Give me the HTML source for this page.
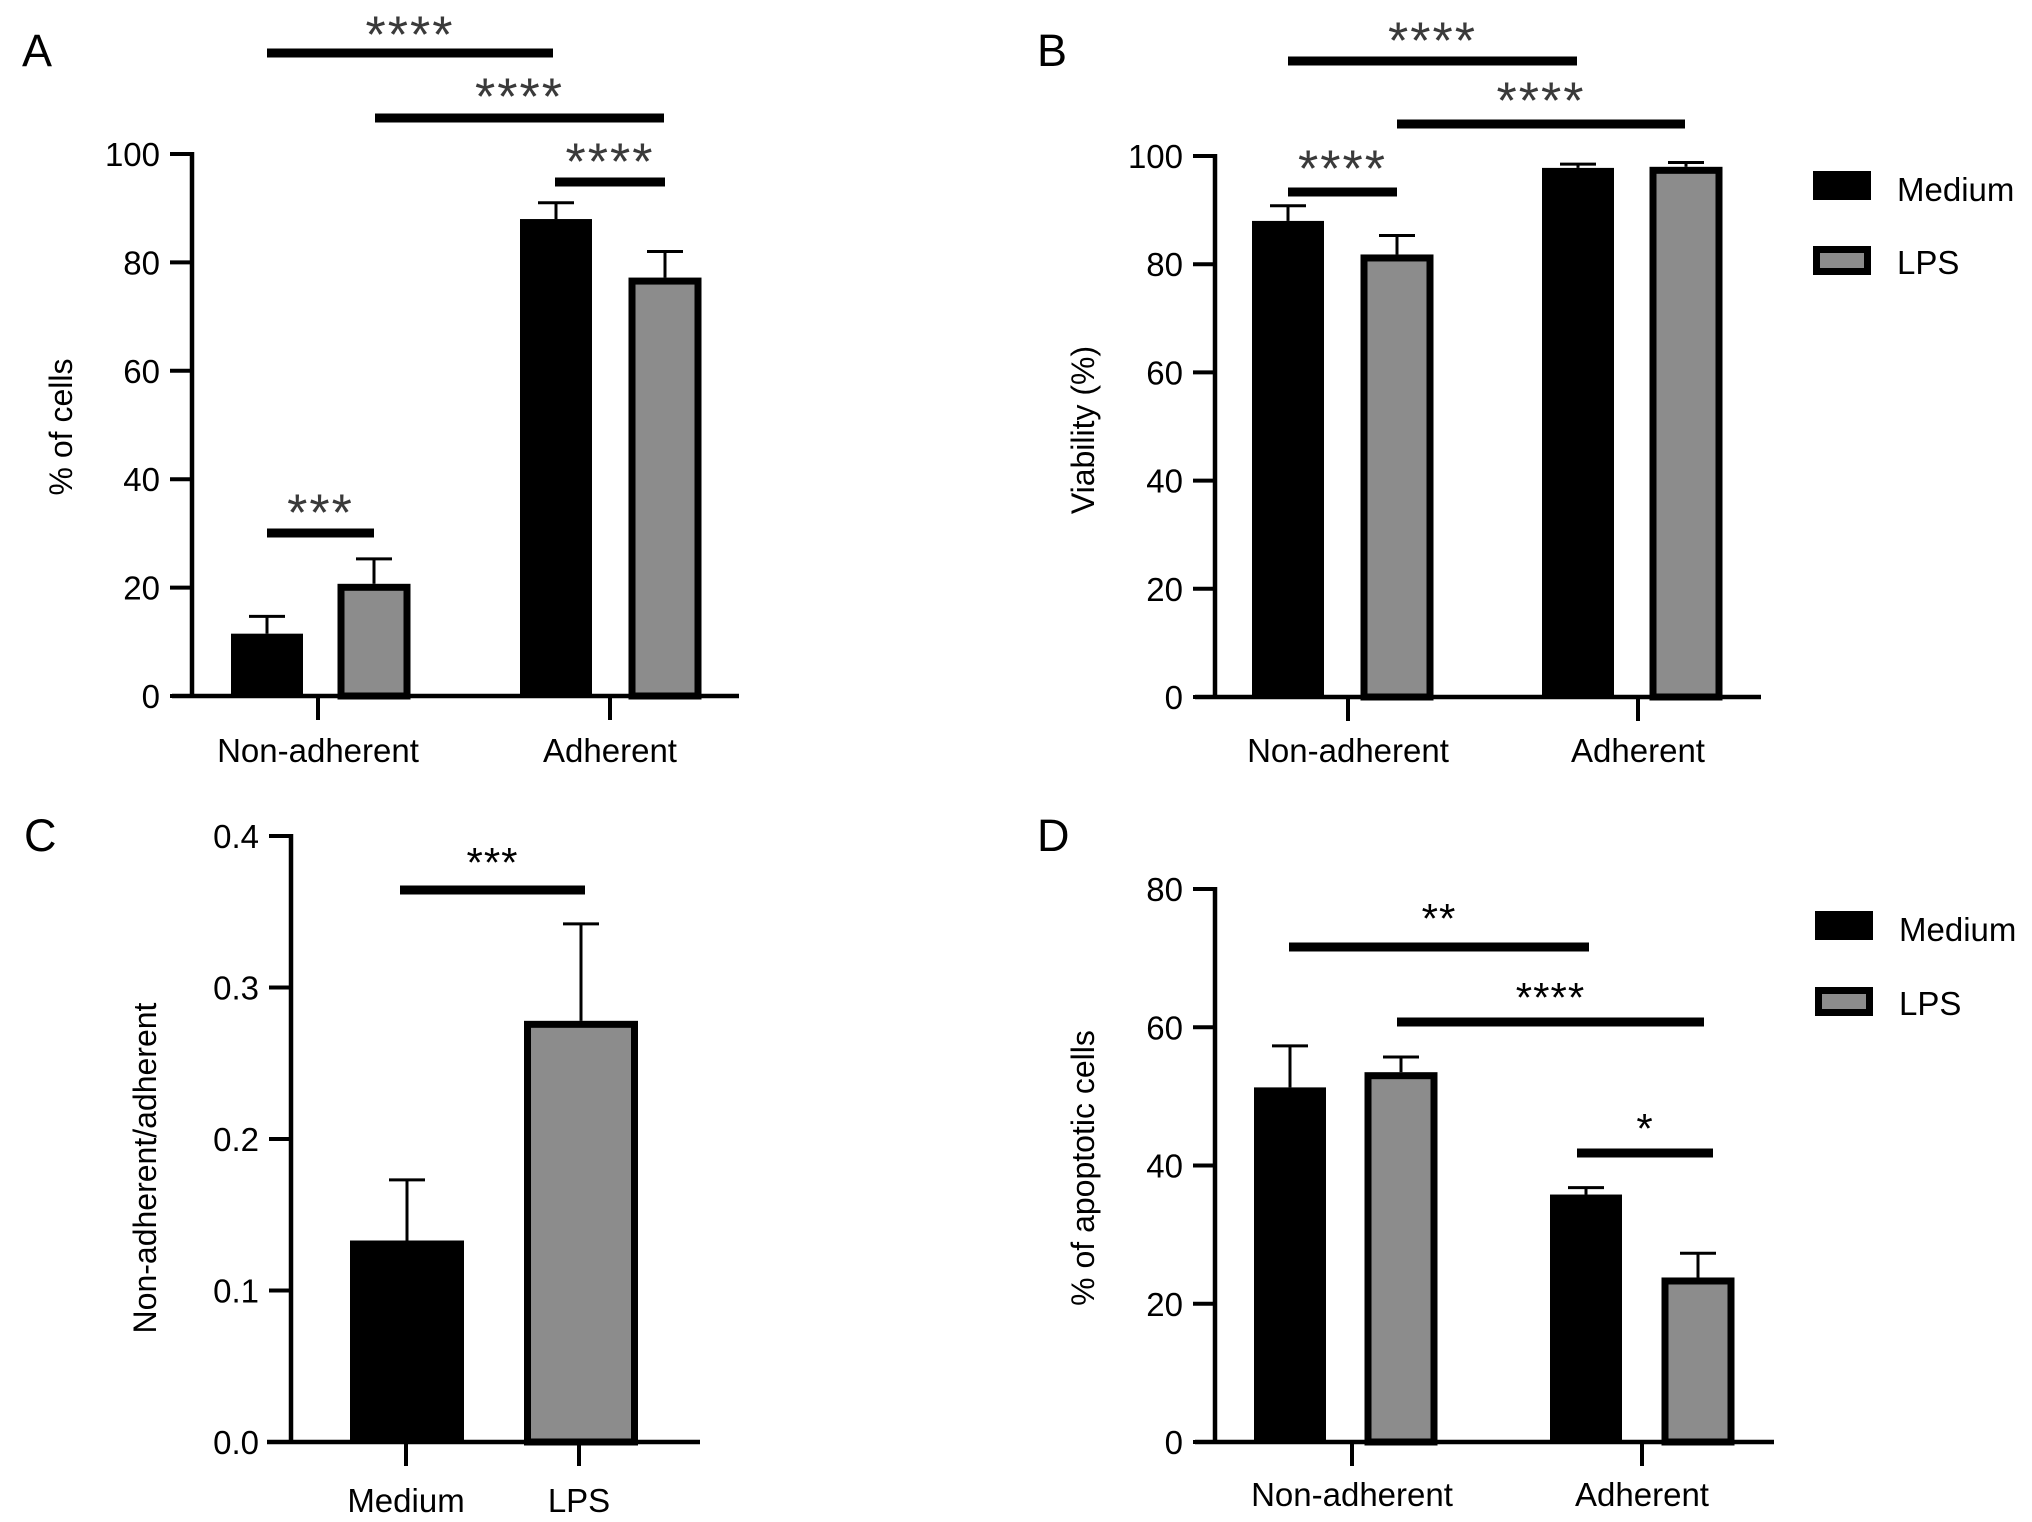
<!DOCTYPE html>
<html><head><meta charset="utf-8"><style>
html,body{margin:0;padding:0;background:#fff;}
svg{display:block;font-family:"Liberation Sans",Arial,sans-serif;}
</style></head><body>
<svg id="fig" width="2032" height="1522" viewBox="0 0 2032 1522" xmlns="http://www.w3.org/2000/svg"></svg>
<script>
// ---------- data ----------
const groupsAB = ["Non-adherent", "Adherent"];
const seriesNames = ["Medium", "LPS"];
const aMedium = [11.5, 88];
const aMediumErr = [3.2, 3];
const aLPS = [20.7, 77.2];
const aLPSErr = [4.6, 4.8];
const aTicks = [0, 20, 40, 60, 80, 100];
const bMedium = [88, 97.8];
const bMediumErr = [2.8, 0.7];
const bLPS = [81.8, 98];
const bLPSErr = [3.5, 0.8];
const bTicks = [0, 20, 40, 60, 80, 100];
const cCats = ["Medium", "LPS"];
const cVals = [0.133, 0.278];
const cErr = [0.040, 0.064];
const cTicks = ["0.0", "0.1", "0.2", "0.3", "0.4"];
const dMedium = [51.3, 35.8];
const dMediumErr = [6.0, 1.0];
const dLPS = [53.5, 23.8];
const dLPSErr = [2.2, 3.5];
const dTicks = [0, 20, 40, 60, 80];

const NS = "http://www.w3.org/2000/svg";
const svg = document.getElementById('fig');
function mk(tag, attrs, parent, text){
  const e = document.createElementNS(NS, tag);
  for (const k in attrs) e.setAttribute(k, attrs[k]);
  if (text !== undefined) e.textContent = text;
  (parent || svg).appendChild(e);
  return e;
}

function panel(cfg){
  const g = mk('g', {});
  
  
  const y = v => cfg.y0 - (v - cfg.min) / (cfg.max - cfg.min) * (cfg.y0 - cfg.yTop);
  const L = mk('text', {x: cfg.letterX, y: cfg.letterY, 'font-size': 45, fill: '#000'}, g, cfg.letter);
  
  
  cfg.bars.forEach(b => {
    const top = y(b.v), et = y(b.v + b.e);
    const eb = mk('g', {}, g);
    
    
    mk('line', {x1: b.cx, x2: b.cx, y1: top, y2: et, stroke: '#000', 'stroke-width': 3}, eb);
    mk('line', {x1: b.cx - 18, x2: b.cx + 18, y1: et, y2: et, stroke: '#000', 'stroke-width': 3}, eb);
    let r;
    if (b.gray) {
      r = mk('rect', {x: b.cx - b.w/2 + 3.5, y: top + 3.5, width: b.w - 7, height: cfg.y0 - top - 3.5, fill: '#8c8c8c', stroke: '#000', 'stroke-width': 7}, g);
    } else {
      r = mk('rect', {x: b.cx - b.w/2, y: top, width: b.w, height: cfg.y0 - top, fill: '#000'}, g);
    }
    
    
  });
  const ax = mk('g', {}, g);
  
  
  mk('line', {x1: cfg.ax, x2: cfg.ax, y1: y(cfg.max) - 2, y2: cfg.y0 + 2, stroke: '#000', 'stroke-width': 4.5}, ax);
  cfg.ticks.forEach(t => {
    const ty = y(parseFloat(t));
    mk('line', {x1: cfg.ax - 22, x2: cfg.ax, y1: ty, y2: ty, stroke: '#000', 'stroke-width': 4}, ax);
    const tl = mk('text', {x: cfg.ax - 32, y: ty + 12, 'font-size': 33, 'text-anchor': 'end'}, ax, t);
    
    
  });
  const xa = mk('g', {}, g);
  
  
  mk('line', {x1: cfg.xL, x2: cfg.xR, y1: cfg.y0, y2: cfg.y0, stroke: '#000', 'stroke-width': 4.5}, xa);
  cfg.cats.forEach((c, i) => {
    const cx = cfg.catX[i];
    mk('line', {x1: cx, x2: cx, y1: cfg.y0, y2: cfg.y0 + 24, stroke: '#000', 'stroke-width': 4}, xa);
    const xl = mk('text', {x: cx, y: cfg.catY, 'font-size': 33, 'text-anchor': 'middle'}, xa, c);
    
    
  });
  const yt = mk('text', {x: 0, y: 0, 'font-size': 32, 'text-anchor': 'middle', transform: `translate(${cfg.ylX},${cfg.ylY}) rotate(-90)`}, g, cfg.ylabel);
  
  
  cfg.sig.forEach(s => {
    const sg = mk('g', {}, g);
    
    
    mk('rect', {x: s.x1, y: s.y - 4.5, width: s.x2 - s.x1, height: 9, fill: '#000'}, sg);
    mk('text', {x: (s.x1 + s.x2)/2, y: s.sy + cfg.starFs*0.55, 'font-size': cfg.starFs, 'text-anchor': 'middle', fill: cfg.starColor, 'letter-spacing': cfg.starLs}, sg, s.t);
  });
  if (cfg.legend) {
    const lg = mk('g', {}, g);
    
    
    const Lx = cfg.legend.x, Ly = cfg.legend.y;
    mk('rect', {x: Lx, y: Ly, width: 58, height: 29, fill: '#000'}, lg);
    mk('rect', {x: Lx + 3.5, y: Ly + cfg.legend.dy + 3.5, width: 51, height: 22, fill: '#8c8c8c', stroke: '#000', 'stroke-width': 7}, lg);
    const t1 = mk('text', {x: Lx + 84, y: Ly + 30, 'font-size': 33}, lg, seriesNames[0]);
    
    
    const t2 = mk('text', {x: Lx + 84, y: Ly + cfg.legend.dy + 28, 'font-size': 33}, lg, seriesNames[1]);
    
    
  }
}

function twoGroup(med, medE, lps, lpsE, pos){
  return [
    {cx: pos[0], v: med[0], e: medE[0], w: 72, gray: false, name: 'bar-medium-non-adherent'},
    {cx: pos[1], v: lps[0], e: lpsE[0], w: 73, gray: true, name: 'bar-lps-non-adherent'},
    {cx: pos[2], v: med[1], e: medE[1], w: 72, gray: false, name: 'bar-medium-adherent'},
    {cx: pos[3], v: lps[1], e: lpsE[1], w: 73, gray: true, name: 'bar-lps-adherent'}
  ];
}

panel({name: 'panel-a', letter: 'A', letterX: 22, letterY: 66, min: 0, max: 100, y0: 696, yTop: 154,
  ax: 192, xL: 172, xR: 739, cats: groupsAB, catX: [318, 610], catY: 762, ticks: aTicks.map(String),
  ylabel: '% of cells', ylX: 72, ylY: 427,
  bars: twoGroup(aMedium, aMediumErr, aLPS, aLPSErr, [267, 374, 556, 665]),
  starFs: 52, starColor: '#3a3a3a', starLs: 2,
  sig: [{x1: 267, x2: 553, y: 53, sy: 24, t: '****'}, {x1: 375, x2: 664, y: 118, sy: 86, t: '****'},
        {x1: 555, x2: 665, y: 182, sy: 151, t: '****'}, {x1: 267, x2: 374, y: 533, sy: 502, t: '***'}]
});

panel({name: 'panel-b', letter: 'B', letterX: 1037, letterY: 66, min: 0, max: 100, y0: 697, yTop: 156,
  ax: 1215, xL: 1195, xR: 1761, cats: groupsAB, catX: [1348, 1638], catY: 762, ticks: bTicks.map(String),
  ylabel: 'Viability (%)', ylX: 1094, ylY: 430,
  bars: twoGroup(bMedium, bMediumErr, bLPS, bLPSErr, [1288, 1397, 1578, 1686]),
  starFs: 52, starColor: '#3a3a3a', starLs: 2,
  sig: [{x1: 1288, x2: 1577, y: 61, sy: 30, t: '****'}, {x1: 1397, x2: 1685, y: 124, sy: 90, t: '****'},
        {x1: 1288, x2: 1397, y: 192, sy: 158, t: '****'}],
  legend: {x: 1813, y: 171, dy: 75}
});

panel({name: 'panel-c', letter: 'C', letterX: 24, letterY: 851, min: 0, max: 0.4, y0: 1442, yTop: 836,
  ax: 291, xL: 267, xR: 700, cats: cCats, catX: [406, 579], catY: 1512, ticks: cTicks,
  ylabel: 'Non-adherent/adherent', ylX: 156, ylY: 1168,
  bars: [{cx: 407, v: cVals[0], e: cErr[0], w: 114, gray: false, name: 'bar-medium'},
         {cx: 581, v: cVals[1], e: cErr[1], w: 114, gray: true, name: 'bar-lps'}],
  starFs: 42, starColor: '#000', starLs: 1,
  sig: [{x1: 400, x2: 585, y: 890, sy: 854, t: '***'}]
});

panel({name: 'panel-d', letter: 'D', letterX: 1037, letterY: 851, min: 0, max: 80, y0: 1442, yTop: 889,
  ax: 1215, xL: 1195, xR: 1774, cats: groupsAB, catX: [1352, 1642], catY: 1506, ticks: dTicks.map(String),
  ylabel: '% of apoptotic cells', ylX: 1094, ylY: 1168,
  bars: twoGroup(dMedium, dMediumErr, dLPS, dLPSErr, [1290, 1401, 1586, 1698]),
  starFs: 42, starColor: '#000', starLs: 1,
  sig: [{x1: 1289, x2: 1589, y: 947, sy: 910, t: '**'}, {x1: 1397, x2: 1704, y: 1022, sy: 989, t: '****'},
        {x1: 1577, x2: 1713, y: 1153, sy: 1120, t: '*'}],
  legend: {x: 1815, y: 911, dy: 76}
});
</script>
</body></html>
